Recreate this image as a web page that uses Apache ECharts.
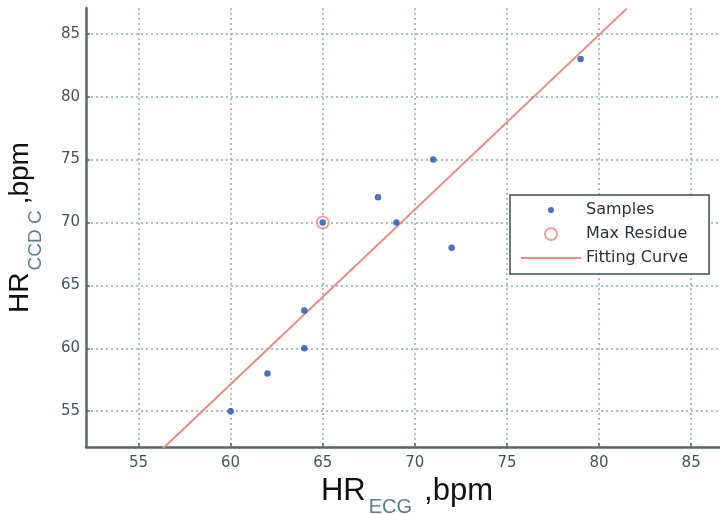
<!DOCTYPE html>
<html>
<head>
<meta charset="utf-8">
<script src="https://cdn.jsdelivr.net/npm/echarts@6/dist/echarts.min.js"></script>
<style>html,body{margin:0;padding:0;background:#fff}#c{width:720px;height:514px}</style>
</head>
<body>
<div id="c"></div>
<script>
const sampleX = [60, 62, 64, 64, 65, 68, 69, 71, 72, 79];
const sampleY = [55, 58, 60, 63, 70, 72, 70, 75, 68, 83];
const maxResidueX = [65];
const maxResidueY = [70];
const fitX = [56.3, 81.5];
const fitY = [52, 87];
const tickValues = [55, 60, 65, 70, 75, 80, 85];
const xMin = 52.15, xMax = 87;
const yMin = 52.15, yMax = 87.05;

const samples = sampleX.map((x, i) => [x, sampleY[i]]);
const residue = maxResidueX.map((x, i) => [x, maxResidueY[i]]);
const fit = fitX.map((x, i) => [x, fitY[i]]);

const red = '#ec8a82', blue = '#1d4fae';
const axisColor = '#56676f', gridColor = '#8cacbc', labelColor = '#44545e';
const font = 'DejaVu Sans';

const chart = echarts.init(document.getElementById('c'));
function axisBase(min, max, margin) {
  return {
    type: 'value', min: min, max: max,
    axisLine: { show: true, onZero: false, lineStyle: { color: axisColor, width: 2.5 } },
    axisTick: { show: true, inside: true, length: 4, customValues: tickValues, lineStyle: { color: axisColor, width: 1.5 } },
    axisLabel: { color: labelColor, fontFamily: font, fontSize: 15, margin: margin, customValues: tickValues },
    splitLine: { show: true, lineStyle: { color: gridColor, width: 1.5, type: [2, 3] } },
    nameLocation: 'middle'
  };
}
chart.setOption({
  animation: false,
  backgroundColor: '#fff',
  grid: { left: 86, top: 8, width: 642, height: 439, containLabel: false, outerBoundsMode: 'none' },
  xAxis: Object.assign(axisBase(xMin, xMax, 9), {
    name: '{m|HR}{s|ECG}{c|,bpm}',
    nameGap: 22,
    nameTextStyle: {
      rich: {
        m: { fontFamily: 'Liberation Sans', fontSize: 31, color: '#111', lineHeight: 34, verticalAlign: 'top' },
        c: { fontFamily: 'Liberation Sans', fontSize: 31, color: '#111', lineHeight: 34, verticalAlign: 'top', padding: [0, 0, 0, 12] },
        s: { fontFamily: 'Liberation Sans', fontSize: 20, color: '#5a7d92', lineHeight: 20, padding: [22, 0, 0, 3], verticalAlign: 'top' }
      }
    }
  }),
  yAxis: Object.assign(axisBase(yMin, yMax, 6), {
    name: '{m|HR}{s|CCD C}{c|,bpm}',
    nameGap: 48,
    nameRotate: 90,
    nameTextStyle: {
      rich: {
        m: { fontFamily: 'Liberation Sans', fontSize: 28, color: '#111', lineHeight: 32, verticalAlign: 'top' },
        c: { fontFamily: 'Liberation Sans', fontSize: 28, color: '#111', lineHeight: 32, verticalAlign: 'top', padding: [0, 0, 0, 6] },
        s: { fontFamily: 'Liberation Sans', fontSize: 19, color: '#5a7d92', lineHeight: 20, padding: [20, 0, 0, 2], verticalAlign: 'top' }
      }
    }
  }),
  legend: {
    orient: 'vertical', left: 510, top: 195,
    padding: [7, 21, 8, 11],
    itemWidth: 60, itemHeight: 12, itemGap: 8,
    borderColor: '#3e4d54', borderWidth: 1.5, backgroundColor: '#fff',
    textStyle: { fontFamily: font, fontSize: 16, color: '#2a3338', lineHeight: 16 },
    data: [
      { name: 'Samples', icon: 'path://M0,0M12,12M6,3A3,3,0,1,1,6,9A3,3,0,1,1,6,3Z' },
      { name: 'Max Residue' },
      { name: 'Fitting Curve', icon: 'path://M0,0M0,12M0,5H60V7H0Z' }
    ]
  },
  series: [
    {
      name: 'Fitting Curve', type: 'line', data: fit, symbol: 'none', showSymbol: false, clip: true,
      lineStyle: { color: red, width: 2 }, itemStyle: { color: red }, z: 2
    },
    {
      name: 'Max Residue', type: 'scatter', data: residue, symbol: 'emptyCircle', symbolSize: 12,
      itemStyle: { color: red, borderColor: red, borderWidth: 3.5 }, z: 3
    },
    {
      name: 'Samples', type: 'scatter', data: samples, symbol: 'circle', symbolSize: 6.5,
      itemStyle: { color: blue }, z: 4
    }
  ]
});
</script>
</body>
</html>
